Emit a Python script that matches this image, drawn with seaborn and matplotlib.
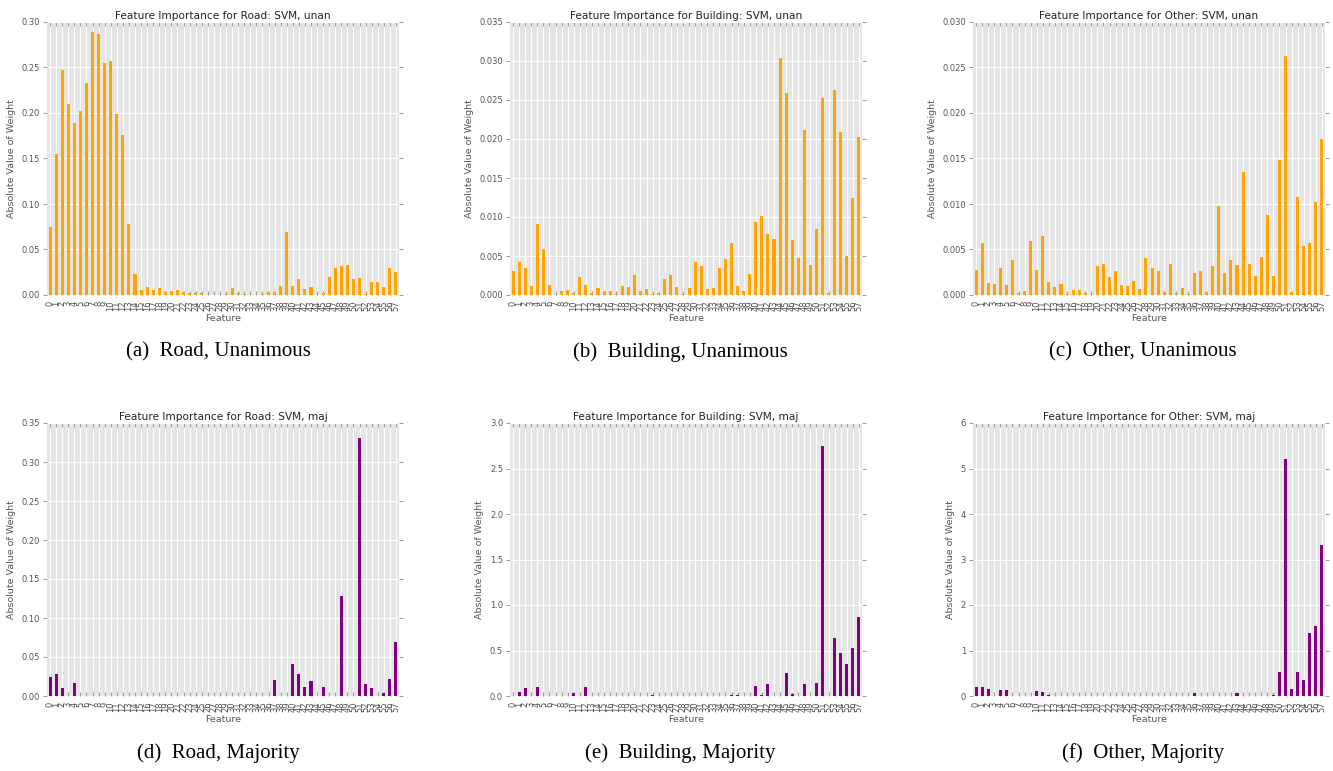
import matplotlib
matplotlib.use("Agg")
import matplotlib.pyplot as plt
import seaborn as sns
import pandas as pd

# Feature indices shared by every panel
features = list(range(58))

# Absolute SVM weights, unanimous labels
road_unan = [0.075, 0.1545, 0.247, 0.2095, 0.189, 0.2025, 0.233, 0.289, 0.2865, 0.2545,
             0.2575, 0.199, 0.176, 0.0776, 0.023, 0.0055, 0.0084, 0.006, 0.0077, 0.0033,
             0.0044, 0.0051, 0.0029, 0.0018, 0.0018, 0.0018, 0.0, 0.0, 0.0, 0.0015,
             0.0073, 0.0025, 0.001, 0.0, 0.0, 0.001, 0.003, 0.0035, 0.0103, 0.069,
             0.0103, 0.018, 0.0066, 0.0084, 0.0, 0.0025, 0.020, 0.030, 0.032, 0.033,
             0.018, 0.019, 0.0007, 0.0146, 0.0146, 0.0088, 0.030, 0.025]

building_unan = [0.0031, 0.0042, 0.0035, 0.0012, 0.0091, 0.0059, 0.0013, 0.0, 0.0005, 0.0007,
                 0.00025, 0.0023, 0.0013, 0.00025, 0.0009, 0.0005, 0.0005, 0.0001, 0.0011, 0.001,
                 0.0026, 0.0005, 0.0008, 0.0001, 0.0002, 0.0021, 0.0026, 0.001, 0.0001, 0.0009,
                 0.0042, 0.0037, 0.0008, 0.0009, 0.0035, 0.0046, 0.0067, 0.0011, 0.0005, 0.0027,
                 0.0094, 0.0101, 0.0078, 0.0072, 0.0304, 0.0259, 0.0070, 0.0047, 0.0211, 0.0039,
                 0.0084, 0.0252, 0.0003, 0.0263, 0.0209, 0.0050, 0.0124, 0.0202]

other_unan = [0.00275, 0.0057, 0.0013, 0.0012, 0.0030, 0.00106, 0.0039, 0.0002, 0.00044, 0.0059,
              0.0027, 0.00645, 0.00143, 0.00084, 0.0012, 0.00015, 0.00055, 0.00055, 0.0002, 0.0,
              0.0032, 0.00344, 0.0020, 0.0026, 0.00113, 0.0010, 0.00157, 0.00066, 0.0041, 0.0030,
              0.0026, 0.00033, 0.0034, 0.00026, 0.00073, 0.00015, 0.0024, 0.0026, 0.0003, 0.0032,
              0.0098, 0.0024, 0.0038, 0.0033, 0.0135, 0.0034, 0.0021, 0.0042, 0.0088, 0.0021,
              0.0148, 0.0263, 0.0003, 0.0108, 0.00535, 0.0057, 0.0102, 0.0171]

# Absolute SVM weights, majority labels
road_maj = [0.0244, 0.0286, 0.0098, 0.0, 0.0171, 0.0, 0.0, 0.0, 0.0, 0.0,
            0.0, 0.0, 0.0, 0.0, 0.0, 0.0, 0.0, 0.0, 0.0, 0.0,
            0.0, 0.0, 0.0, 0.0, 0.0, 0.0, 0.0, 0.0, 0.0, 0.0,
            0.0, 0.0, 0.0, 0.0, 0.0, 0.0, 0.0, 0.0205, 0.0, 0.0,
            0.041, 0.0286, 0.011, 0.0192, 0.0, 0.012, 0.0, 0.0, 0.128, 0.0,
            0.0, 0.3305, 0.0154, 0.0103, 0.0, 0.0038, 0.022, 0.069]

building_maj = [0.0, 0.044, 0.084, 0.0, 0.099, 0.0, 0.0, 0.0, 0.0, 0.0,
                0.033, 0.0, 0.099, 0.0, 0.0, 0.0, 0.0, 0.0, 0.0, 0.0,
                0.0, 0.0, 0.0, 0.007, 0.0, 0.0, 0.0, 0.0, 0.0, 0.0,
                0.0, 0.0, 0.0, 0.0, 0.0, 0.0, 0.015, 0.015, 0.0, 0.0,
                0.11, 0.007, 0.128, 0.0, 0.0, 0.249, 0.022, 0.0, 0.128, 0.0,
                0.147, 2.747, 0.0, 0.641, 0.473, 0.352, 0.524, 0.864]

other_maj = [0.205, 0.205, 0.154, 0.0, 0.139, 0.139, 0.0, 0.0, 0.0, 0.0,
             0.103, 0.088, 0.02, 0.0, 0.0, 0.0, 0.0, 0.0, 0.0, 0.0,
             0.0, 0.0, 0.0, 0.0, 0.0, 0.0, 0.0, 0.0, 0.0, 0.0,
             0.0, 0.0, 0.0, 0.0, 0.0, 0.0, 0.073, 0.0, 0.0, 0.0,
             0.0, 0.0, 0.0, 0.073, 0.0, 0.0, 0.0, 0.0, 0.0, 0.03,
             0.527, 5.2, 0.154, 0.52, 0.352, 1.377, 1.531, 3.311]

panels = [
    ("Road", "unan", road_unan, "orange", 0.30, 0.05, "(a)  Road, Unanimous"),
    ("Building", "unan", building_unan, "orange", 0.035, 0.005, "(b)  Building, Unanimous"),
    ("Other", "unan", other_unan, "orange", 0.030, 0.005, "(c)  Other, Unanimous"),
    ("Road", "maj", road_maj, "purple", 0.35, 0.05, "(d)  Road, Majority"),
    ("Building", "maj", building_maj, "purple", 3.0, 0.5, "(e)  Building, Majority"),
    ("Other", "maj", other_maj, "purple", 6.0, 1.0, "(f)  Other, Majority"),
]

sns.set_style("darkgrid", {"axes.facecolor": "#E5E5E5", "grid.color": "white"})
plt.rcParams["font.family"] = ["DejaVu Sans"]

fig = plt.figure(figsize=(13.33, 7.71), dpi=100)

W, H = 1333.0, 771.0
col_left = [47, 510, 973]
row_top = [22, 423]
ax_w, ax_h = 352, 273
caption_x = [218, 680, 1143]
caption_y = [352, 753]

grey = "#555555"
tick_grey = "#888888"

for i, (cls, lab, vals, col, ymax, ystep, cap) in enumerate(panels):
    r, c = divmod(i, 3)
    ax = fig.add_axes([col_left[c] / W, 1 - (row_top[r] + ax_h) / H, ax_w / W, ax_h / H])
    df = pd.DataFrame({"Feature": features, "Weight": vals})
    sns.barplot(data=df, x="Feature", y="Weight", color=col, saturation=1,
                width=0.5, errorbar=None, ax=ax, linewidth=0)
    ax.set_xlim(-0.5, len(features) - 0.5)
    ax.set_ylim(0, ymax)
    n = int(round(ymax / ystep))
    ax.set_yticks([k * ystep for k in range(n + 1)])
    ax.set_xticks(range(len(features)))
    ax.set_xticklabels([str(f) for f in features], rotation=90, fontsize=6, color=grey)
    ax.tick_params(axis="y", labelsize=6, labelcolor=grey, direction="out",
                   left=True, right=True, length=3, width=0.6, color=tick_grey, pad=2)
    ax.tick_params(axis="x", direction="in", top=True, bottom=True, length=3,
                   width=0.6, color=tick_grey, pad=4)
    ax.grid(True, color="white", linewidth=0.8)
    ax.set_axisbelow(True)
    for s in ax.spines.values():
        s.set_visible(False)
    ax.set_title(f"Feature Importance for {cls}: SVM, {lab}", fontsize=7.6,
                 color="#222222", pad=2)
    ax.set_xlabel("Feature", fontsize=6.8, color=grey, labelpad=2)
    ax.set_ylabel("Absolute Value of Weight", fontsize=6.8, color=grey, labelpad=4)
    fig.text(caption_x[c] / W, 1 - caption_y[r] / H, cap, ha="center", va="center",
             fontsize=15, family=["Liberation Serif"], color="black")

fig.savefig("out.png", dpi=100)
